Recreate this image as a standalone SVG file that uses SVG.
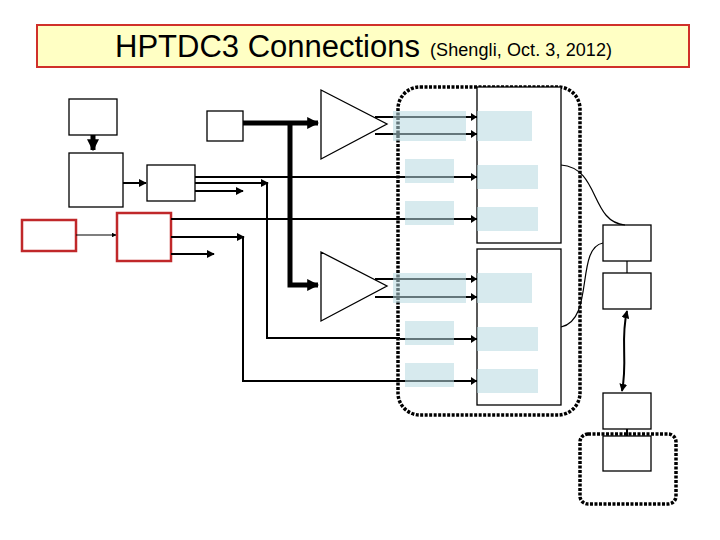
<svg xmlns="http://www.w3.org/2000/svg" width="720" height="540" viewBox="0 0 720 540">
<style>
.b{fill:#fff;stroke:#000;stroke-width:1.3}
.r{fill:#fff;stroke:#c0282a;stroke-width:2.5}
.l{fill:none;stroke:#000;stroke-width:2}
.t{fill:none;stroke:#000;stroke-width:1.2}
.k{fill:none;stroke:#000;stroke-width:5}
.bl{fill:#b7d9e0;opacity:0.55}
.d{fill:none;stroke:#000;stroke-width:3.5;stroke-dasharray:3,1.5}
</style>
<defs>
<marker id="a" viewBox="0 0 10 10" refX="9" refY="5" markerWidth="4" markerHeight="4" orient="auto-start-reverse"><path d="M0,0L10,5L0,10z"/></marker>
<marker id="A" viewBox="0 0 10 10" refX="9" refY="5" markerWidth="2.4" markerHeight="2.4" orient="auto"><path d="M0,0L10,5L0,10z"/></marker>
</defs>
<g id="title"><rect x="37" y="25" width="652" height="42" fill="#ffffc4" stroke="#d0302a" stroke-width="2"/>
<text x="115" y="57" font-family="Liberation Sans, sans-serif" font-size="31" textLength="305">HPTDC3 Connections</text>
<text x="430" y="56" font-family="Liberation Sans, sans-serif" font-size="18" textLength="182">(Shengli, Oct. 3, 2012)</text></g>
<g id="nodes">
<rect id="n1" class="b" x="69" y="99" width="48" height="36"/>
<rect id="n2" class="b" x="69" y="153" width="54" height="54"/>
<rect id="n3" class="b" x="207" y="111" width="36" height="30"/>
<rect id="n4" class="b" x="147" y="165" width="48" height="36"/>
<rect id="n5" class="r" x="22" y="220" width="54" height="31"/>
<rect id="n6" class="r" x="117" y="213" width="54" height="48"/>
<path id="amp1" class="b" d="M321,90L321,159L387,124z"/>
<path id="amp2" class="b" d="M321,252L321,321L387,286z"/>
<rect id="g1" class="d" x="398" y="87" width="182" height="328" rx="22"/>
<rect id="tdc1" class="b" x="477" y="87" width="84" height="156"/>
<rect id="tdc2" class="b" x="477" y="249" width="84" height="156"/>
<rect id="e" class="b" x="603" y="225" width="48" height="36"/>
<rect id="f" class="b" x="603" y="273" width="48" height="36"/>
<rect id="g" class="b" x="603" y="393" width="48" height="36"/>
<rect id="h" class="b" x="603" y="436" width="48" height="35"/>
<rect id="g2" class="d" x="580" y="434" width="96" height="70" rx="8"/>
</g>
<g id="connectors">
<path class="k" d="M93,135V150" marker-end="url(#A)"/>
<path class="l" d="M123,183H146" marker-end="url(#a)"/>
<path class="l" d="M195,177H400"/>
<path class="l" d="M195,183H268"  marker-end="url(#a)"/>
<path class="l" d="M267,183V338H400"/>
<path class="l" d="M195,191H243" marker-end="url(#a)"/>
<path class="t" d="M76,235H116" marker-end="url(#a)"/>
<path class="l" d="M171,219H400"/>
<path class="l" d="M171,237H244" marker-end="url(#a)"/>
<path class="l" d="M243,237V381H400"/>
<path class="l" d="M171,254H214" marker-end="url(#a)"/>
<path class="k" d="M243,123H318" marker-end="url(#A)"/>
<path class="k" d="M290,123V285H318" marker-end="url(#A)"/>
<path class="l" d="M375,117H477M375,134H477M375,279H477M375,297H477M400,177H477M400,219H477M400,339H477M400,381H477" />
<path fill="#000" d="M471,113l6,4l-6,4zM471,130l6,4l-6,4zM471,275l6,4l-6,4zM471,293l6,4l-6,4zM471,173l6,4l-6,4zM471,215l6,4l-6,4zM471,335l6,4l-6,4zM471,377l6,4l-6,4z"/>
<path class="t" d="M561,165C600,168 590,222 625,225"/>
<path class="t" d="M561,327C595,320 575,248 603,243"/>
<path class="t" d="M627,261V273"/>
<path class="l" d="M627,311C620,340 628,360 622,391" marker-start="url(#a)" marker-end="url(#a)"/>
<path class="l" d="M627,429V436"/>
</g>
<g id="shades">
<rect class="bl" x="393" y="111" width="73" height="30"/>
<rect class="bl" x="393" y="273" width="73" height="30"/>
<rect class="bl" x="405" y="159" width="49" height="24"/>
<rect class="bl" x="405" y="201" width="49" height="24"/>
<rect class="bl" x="405" y="321" width="49" height="24"/>
<rect class="bl" x="405" y="363" width="49" height="24"/>
<rect class="bl" x="477" y="111" width="55" height="30"/>
<rect class="bl" x="477" y="165" width="61" height="24"/>
<rect class="bl" x="477" y="207" width="61" height="24"/>
<rect class="bl" x="477" y="273" width="55" height="30"/>
<rect class="bl" x="477" y="327" width="61" height="24"/>
<rect class="bl" x="477" y="369" width="61" height="24"/>
</g>
</svg>
